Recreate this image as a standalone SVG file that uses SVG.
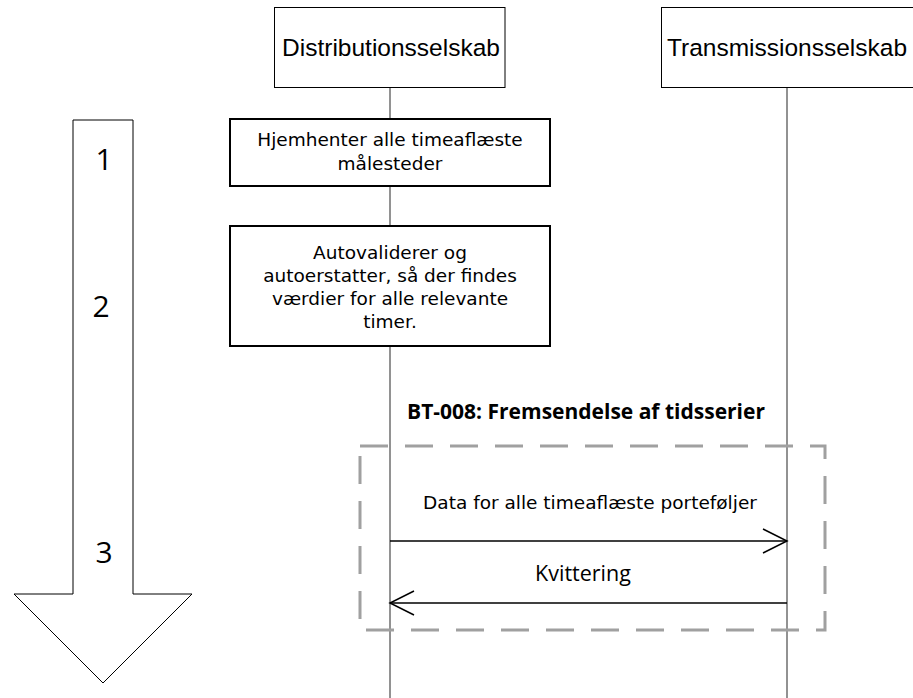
<svg xmlns="http://www.w3.org/2000/svg" width="913" height="698" viewBox="0 0 913 698">
<style>
.hdr{fill:#fff;stroke:#000;stroke-width:1}
.hdrt{font-family:"Liberation Sans",Arial,sans-serif;font-size:24.5px;fill:#000;text-anchor:middle}
.life{stroke:#6e6e6e;stroke-width:1.5;fill:none}
.step{fill:#fff;stroke:#000;stroke-width:2}
.stept{font-family:"DejaVu Sans",Verdana,sans-serif;font-size:18.5px;fill:#000;text-anchor:middle}
.num{font-family:"Open Sans","Liberation Sans",sans-serif;font-size:30px;fill:#000;text-anchor:middle}
.msg{stroke:#000;stroke-width:1.5;fill:none}
.dash{fill:none;stroke:#a0a0a0;stroke-width:3;stroke-dasharray:28 17}
</style>
<rect width="913" height="698" fill="#fff"/>
<g id="connectors">
<line class="life" x1="390" y1="87" x2="390" y2="698"/>
<line class="life" x1="787" y1="87" x2="787" y2="698"/>
<rect class="dash" x="360" y="446" width="465" height="184"/>
<line class="msg" x1="390" y1="541" x2="787" y2="541"/>
<polyline class="msg" points="763,529 787,541 763,553"/>
<line class="msg" x1="787" y1="603" x2="390" y2="603"/>
<polyline class="msg" points="414,591 390,603 414,615"/>
</g>
<g id="bigarrow">
<polygon points="73,120 133,120 133,594 192,594 103,683 14,594 73,594" fill="#fff" stroke="#000" stroke-width="1"/>
<text class="num" x="104" y="170">1</text>
<text class="num" x="101" y="317">2</text>
<text class="num" x="104" y="563">3</text>
</g>
<g id="distribution">
<rect class="hdr" x="274.5" y="7.5" width="230.5" height="80"/>
<text class="hdrt" x="391" y="56">Distributionsselskab</text>
</g>
<g id="transmission">
<rect class="hdr" x="661.5" y="7.5" width="255" height="80"/>
<text class="hdrt" x="787" y="56">Transmissionsselskab</text>
</g>
<g id="step1">
<rect class="step" x="230" y="119" width="320" height="67"/>
<text class="stept" x="390" y="146">Hjemhenter alle timeaflæste</text>
<text class="stept" x="390" y="170">målesteder</text>
</g>
<g id="step2">
<rect class="step" x="230" y="226" width="320" height="120"/>
<text class="stept" x="390" y="259">Autovaliderer og</text>
<text class="stept" x="390" y="282">autoerstatter, så der findes</text>
<text class="stept" x="390" y="305">værdier for alle relevante</text>
<text class="stept" x="390" y="328">timer.</text>
</g>
<g id="bt008">
<text x="586" y="419" font-family="'Open Sans','Liberation Sans',sans-serif" font-weight="bold" font-size="21px" text-anchor="middle" fill="#000">BT-008: Fremsendelse af tidsserier</text>
</g>
<g id="msg1label">
<text x="590" y="509" font-family="'DejaVu Sans',Verdana,sans-serif" font-size="18.5px" text-anchor="middle" fill="#000">Data for alle timeaflæste porteføljer</text>
</g>
<g id="msg2label">
<text x="583" y="581" font-family="'Open Sans','Liberation Sans',sans-serif" font-size="21.5px" text-anchor="middle" fill="#000">Kvittering</text>
</g>
</svg>
